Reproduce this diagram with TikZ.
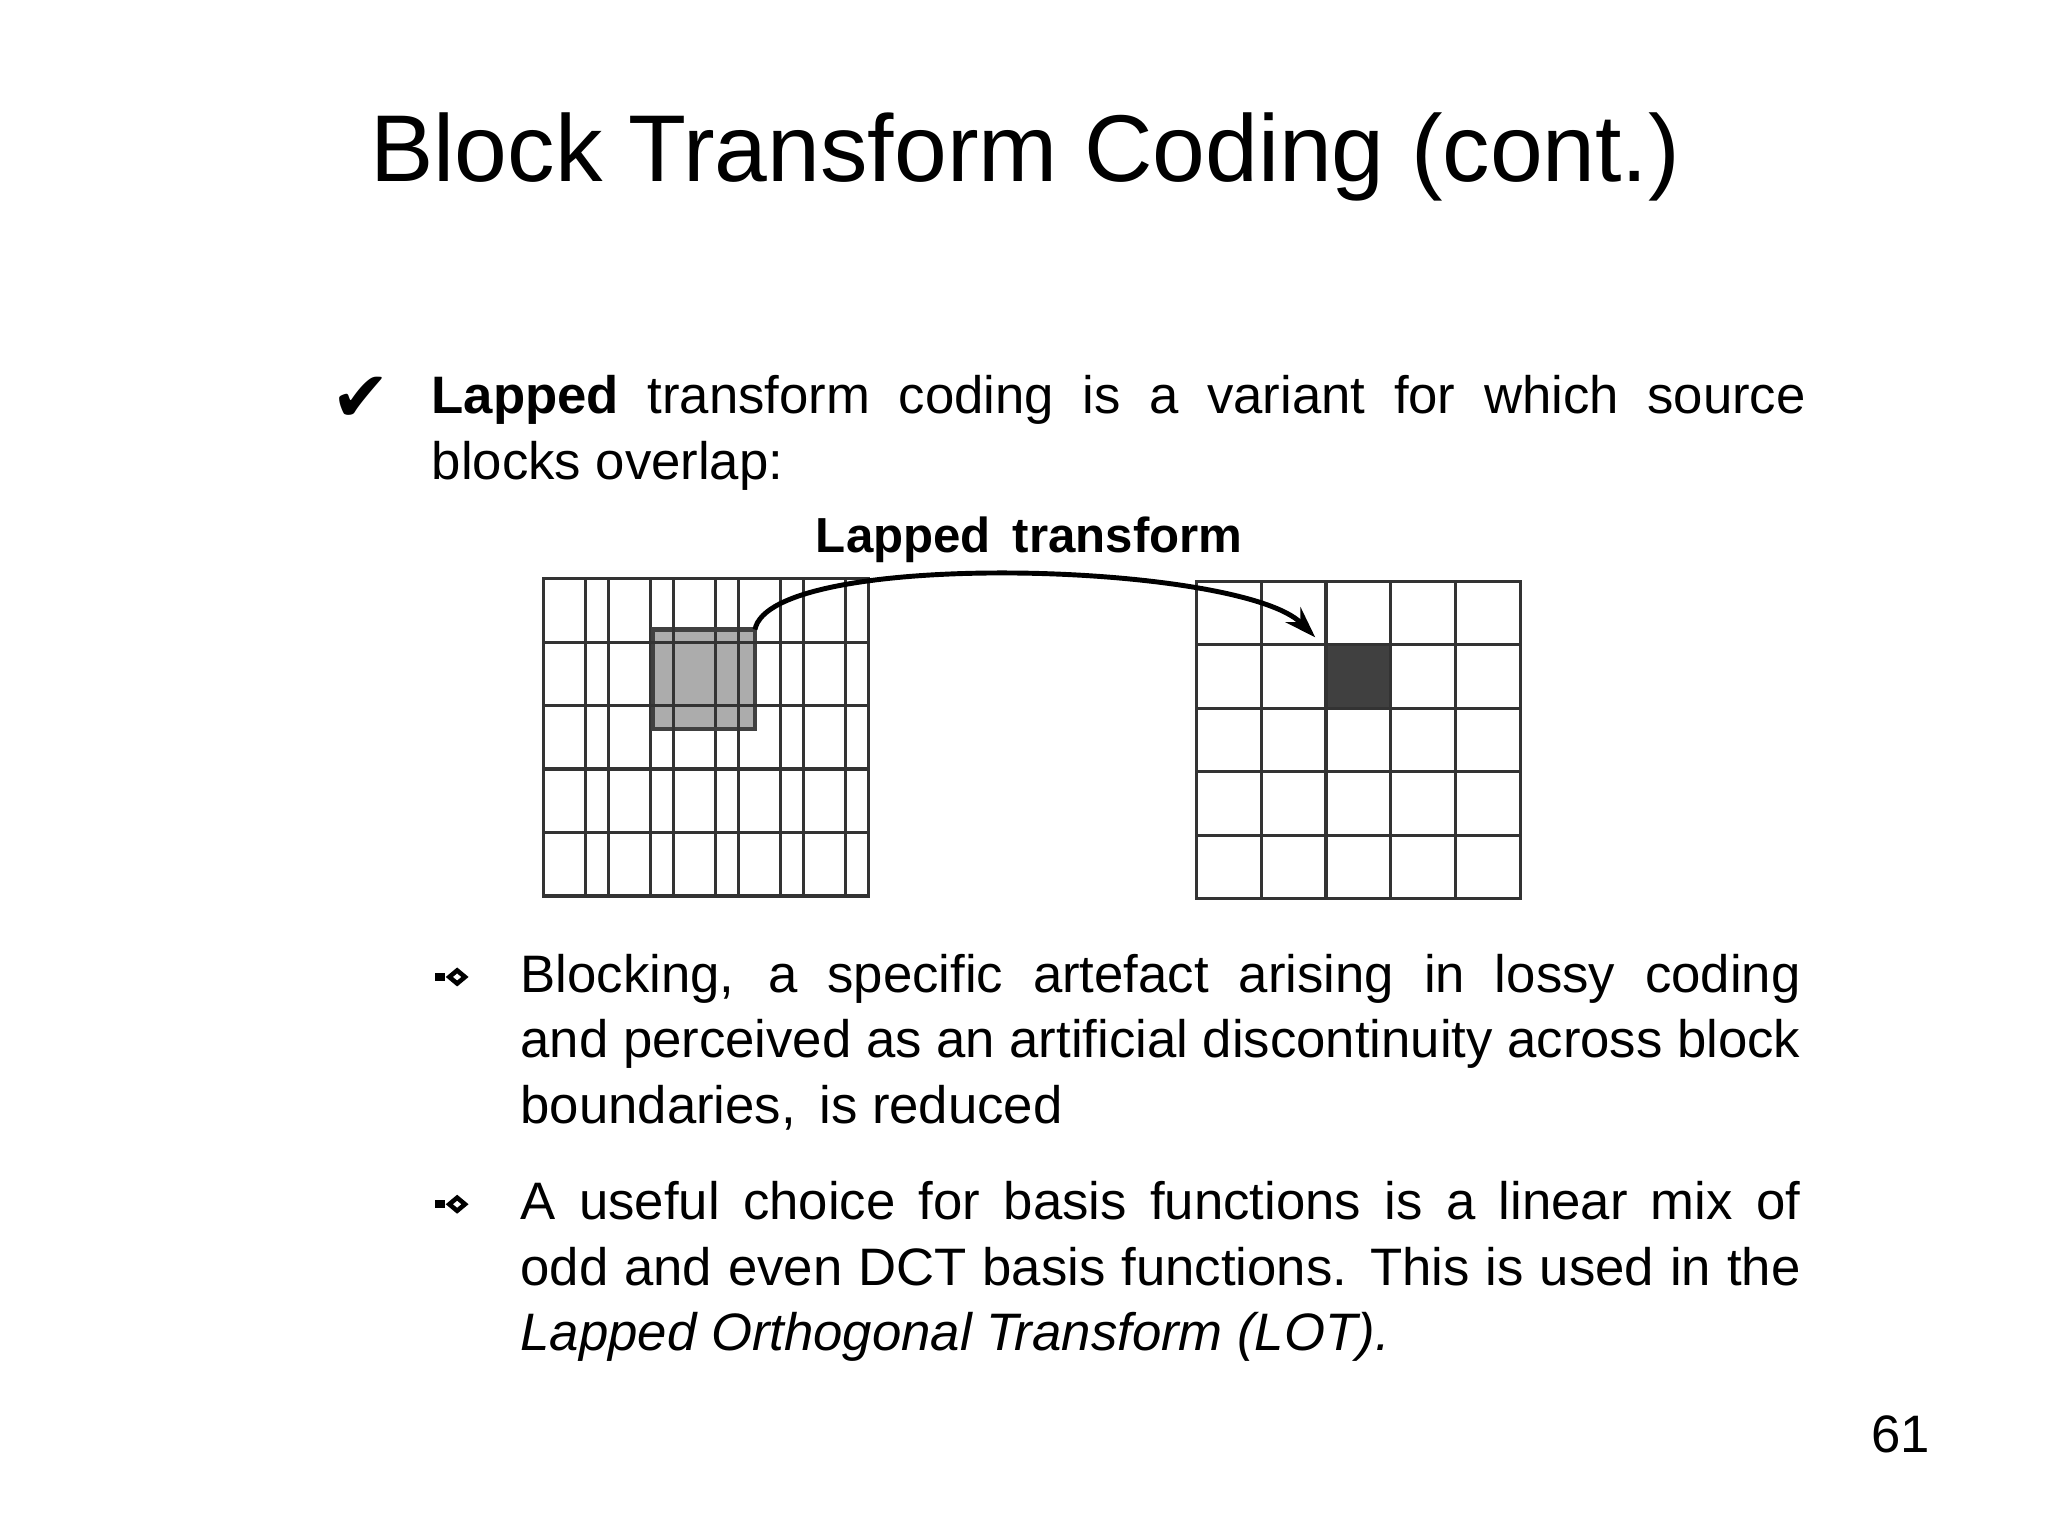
\documentclass[tikz,border=0pt]{standalone}
\usepackage{fontspec}
\setmainfont{Liberation Sans}
\newfontfamily\djv{DejaVu Sans}
\usetikzlibrary{arrows.meta}
\begin{document}
\begin{tikzpicture}[x=0.013061cm,y=-0.013061cm,
  para/.style={anchor=north west,inner sep=0,align=justify,font=\fontsize{15}{18.6}\selectfont},
  gridline/.style={line width=0.9pt,black!80},
  bul/.style={inner sep=0}]
\useasboundingbox (0,0) rectangle (1568,1176);
\node (title) at (785,120) {\fontsize{27}{32}\selectfont Block Transform Coding (cont.)};
\node (chk) at (276,306) {\djv\fontsize{20}{24}\selectfont ✔};
\node[para,text width=1052*0.013061cm] (p1) at (330,287) {\textbf{Lapped} transform coding is a variant for which source blocks overlap:};
\node (lt) at (788,413) {\fontsize{14}{16}\selectfont\textbf{Lapped\, transform}};
% left grid
\fill[gray!65] (500,482) rectangle (578,558);
\draw[gridline] (416,443) grid[step=49.8] (665,686);
\draw[gridline] (416,443) rectangle (665,686);
\draw[line width=1.2pt,black!75] (500,482) rectangle (578,558);
\foreach \i in {1,...,4}{\draw[gridline] ({416+49.8*\i},443) -- ({416+49.8*\i},686); \draw[gridline] (416,{443+48.6*\i}) -- (665,{443+48.6*\i});}
% right grid
\fill[black!75] (1016,493) rectangle (1066,541);
\draw[gridline] (916,445) rectangle (1164,688);
\foreach \i in {1,...,4}{\draw[gridline] ({916+49.6*\i},445) -- ({916+49.6*\i},688); \draw[gridline] (916,{445+48.6*\i}) -- (1164,{445+48.6*\i});}
\coordinate (a) at (578,482);
\coordinate (b) at (1007,488);
\draw[line width=1.4pt,-{Stealth[length=9pt,width=6pt]}] (a) .. controls (590,420) and (950,430) .. (b);
% bullets
\foreach \y/\n in {748/b1,922/b2}{
  \node[bul] (\n) at (345,\y) {};
  \fill (333,\y-3) rectangle (341,\y+3);
  \draw[line width=1.3pt] (344,\y) -- (350,\y-5) -- (356,\y) -- (350,\y+5) -- cycle;}
\node[para,text width=980*0.013061cm] (p2) at (398,730) {Blocking, a specific artefact arising in lossy coding and perceived as an artificial discontinuity across block boundaries,\, is reduced};
\node[para,text width=980*0.013061cm] (p3) at (398,904) {A useful choice for basis functions is a linear mix of odd and even DCT basis functions. This is used in the \textit{Lapped Orthogonal Transform (LOT).}};
\node (pg) at (1455,1098) {\fontsize{15}{18}\selectfont 61};
\end{tikzpicture}
\end{document}
